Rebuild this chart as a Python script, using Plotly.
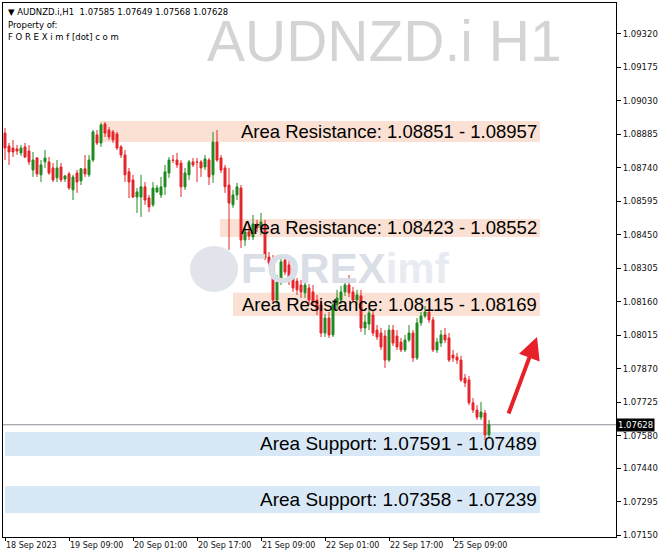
import plotly.graph_objects as go

# ---------------- data (AUDNZD.i, H1) ----------------
bar_index = list(range(122))
opens = [1.08891,1.08835,1.08826,1.08822,1.08805,1.08831,1.08813,1.08731,1.08783,1.08710,
         1.08766,1.08766,1.08740,1.08697,1.08744,1.08692,1.08714,1.08645,1.08718,1.08684,
         1.08736,1.08710,1.08774,1.08883,1.08848,1.08930,1.08904,1.08896,1.08887,1.08831,
         1.08796,1.08723,1.08688,1.08614,1.08614,1.08658,1.08610,1.08580,1.08636,1.08623,
         1.08658,1.08718,1.08774,1.08774,1.08761,1.08658,1.08710,1.08766,1.08766,1.08766,
         1.08744,1.08774,1.08710,1.08852,1.08783,1.08740,1.08666,1.08580,1.08623,1.08653,
         1.08428,1.08463,1.08441,1.08497,1.08480,1.08497,1.08354,1.08333,1.08168,1.08246,
         1.08341,1.08320,1.08307,1.08250,1.08233,1.08199,1.08220,1.08203,1.08168,1.08147,
         1.08025,1.08090,1.08017,1.08147,1.08168,1.08203,1.08233,1.08203,1.08168,1.08186,
         1.08047,1.08064,1.08103,1.08038,1.08025,1.08012,1.07908,1.08038,1.08012,1.07986,
         1.07952,1.07995,1.08025,1.07917,1.08069,1.08099,1.08116,1.08082,1.07952,1.07982,
         1.08017,1.08004,1.07930,1.07921,1.07908,1.07830,1.07822,1.07723,1.07692,1.07661,
         1.07679,1.07585]
highs = [1.08913,1.08848,1.08861,1.08839,1.08839,1.08848,1.08839,1.08809,1.08787,1.08774,
         1.08818,1.08787,1.08761,1.08774,1.08761,1.08710,1.08723,1.08710,1.08731,1.08740,
         1.08796,1.08796,1.08904,1.08904,1.08935,1.08939,1.08917,1.08904,1.08896,1.08839,
         1.08818,1.08740,1.08710,1.08653,1.08710,1.08679,1.08623,1.08679,1.08666,1.08701,
         1.08753,1.08787,1.08796,1.08805,1.08774,1.08740,1.08774,1.08783,1.08783,1.08774,
         1.08796,1.08783,1.08896,1.08904,1.08796,1.08753,1.08740,1.08645,1.08675,1.08666,
         1.08480,1.08489,1.08536,1.08515,1.08545,1.08515,1.08376,1.08363,1.08276,1.08350,
         1.08363,1.08350,1.08333,1.08263,1.08255,1.08246,1.08237,1.08233,1.08190,1.08168,
         1.08108,1.08116,1.08168,1.08212,1.08229,1.08255,1.08276,1.08225,1.08212,1.08212,
         1.08103,1.08134,1.08125,1.08060,1.08047,1.08038,1.08060,1.08060,1.08038,1.08004,
         1.08017,1.08060,1.08038,1.08090,1.08116,1.08142,1.08168,1.08095,1.08004,1.08038,
         1.08047,1.08025,1.07952,1.07939,1.07926,1.07848,1.07839,1.07744,1.07713,1.07727,
         1.07692,1.07649]
lows = [1.08774,1.08753,1.08787,1.08796,1.08792,1.08783,1.08753,1.08701,1.08701,1.08679,
        1.08740,1.08710,1.08679,1.08679,1.08679,1.08679,1.08645,1.08601,1.08632,1.08666,
        1.08701,1.08701,1.08766,1.08839,1.08831,1.08874,1.08861,1.08848,1.08818,1.08783,
        1.08679,1.08610,1.08610,1.08545,1.08528,1.08580,1.08549,1.08571,1.08632,1.08610,
        1.08623,1.08697,1.08761,1.08740,1.08614,1.08645,1.08688,1.08744,1.08679,1.08701,
        1.08731,1.08666,1.08675,1.08766,1.08718,1.08632,1.08385,1.08567,1.08601,1.08393,
        1.08402,1.08428,1.08428,1.08463,1.08450,1.08341,1.08315,1.08160,1.08147,1.08233,
        1.08276,1.08233,1.08203,1.08190,1.08177,1.08177,1.08147,1.08142,1.08103,1.08008,
        1.08008,1.08004,1.08008,1.08125,1.08151,1.08186,1.08181,1.08155,1.08147,1.08030,
        1.08017,1.08038,1.08012,1.07995,1.07952,1.07874,1.07900,1.07969,1.07952,1.07943,
        1.07943,1.07986,1.07900,1.07908,1.08056,1.08090,1.08069,1.07943,1.07939,1.07965,
        1.07982,1.07900,1.07900,1.07891,1.07813,1.07791,1.07713,1.07679,1.07649,1.07649,
        1.07562,1.07568]
closes = [1.08826,1.08809,1.08809,1.08813,1.08826,1.08787,1.08766,1.08774,1.08714,1.08753,
          1.08783,1.08718,1.08688,1.08740,1.08688,1.08705,1.08653,1.08701,1.08679,1.08736,
          1.08714,1.08774,1.08896,1.08848,1.08926,1.08891,1.08874,1.08861,1.08826,1.08796,
          1.08710,1.08679,1.08614,1.08636,1.08658,1.08601,1.08571,1.08653,1.08653,1.08658,
          1.08723,1.08774,1.08773,1.08753,1.08658,1.08718,1.08766,1.08753,1.08765,1.08740,
          1.08779,1.08701,1.08852,1.08774,1.08731,1.08658,1.08588,1.08623,1.08658,1.08428,
          1.08463,1.08445,1.08497,1.08480,1.08506,1.08350,1.08328,1.08168,1.08246,1.08333,
          1.08289,1.08255,1.08220,1.08212,1.08203,1.08233,1.08168,1.08160,1.08125,1.08025,
          1.08090,1.08017,1.08147,1.08177,1.08203,1.08233,1.08199,1.08168,1.08190,1.08047,
          1.08073,1.08112,1.08025,1.08008,1.07965,1.07908,1.08038,1.07982,1.07965,1.07952,
          1.07995,1.08025,1.07917,1.08069,1.08099,1.08116,1.08082,1.07952,1.07986,1.08017,
          1.07995,1.07908,1.07917,1.07908,1.07822,1.07809,1.07723,1.07692,1.07661,1.07683,
          1.07584,1.07628]

time_tick_index = [0, 16, 32, 48, 64, 80, 96, 112]
time_tick_text = ["18 Sep 2023", "19 Sep 09:00", "20 Sep 01:00", "20 Sep 17:00",
                  "21 Sep 09:00", "22 Sep 01:00", "22 Sep 17:00", "25 Sep 09:00"]
price_tick_vals = [1.09320, 1.09175, 1.09030, 1.08885, 1.08740, 1.08595, 1.08450, 1.08305,
                   1.08160, 1.08015, 1.07870, 1.07725, 1.07580, 1.07440, 1.07295, 1.07150]
price_tick_text = ["1.09320", "1.09175", "1.09030", "1.08885", "1.08740", "1.08595", "1.08450",
                   "1.08305", "1.08160", "1.08015", "1.07870", "1.07725", "1.07580", "1.07440",
                   "1.07295", "1.07150"]

# zones: labelled values and the drawn band edges
zone_kind = ["Resistance", "Resistance", "Resistance", "Support", "Support"]
zone_label_high = [1.08957, 1.08552, 1.08169, 1.07591, 1.07358]
zone_label_low = [1.08851, 1.08423, 1.08115, 1.07489, 1.07239]
zone_band_top = [1.08943, 1.08519, 1.08199, 1.07597, 1.07363]
zone_band_bottom = [1.08852, 1.08441, 1.08099, 1.07493, 1.07246]
zone_start_index = [23.75, 53.75, 57.0, 0.0, 0.0]
zone_end_index = 133.75

last_price = 1.07628

# ---------------- styling ----------------
GREEN = "#1f8a1f"
RED = "#e3262b"
RES_FILL = "#fbe1d3"
SUP_FILL = "#d8e8f7"
Y_FONT = dict(family="DejaVu Sans", size=8.5, color="#111111")
X_FONT = dict(family="DejaVu Sans", size=8, color="#111111")

W, H = 664, 560
L, R, T, B = 3, 48, 3, 23
def px(x):
    return (x - L) / (W - L - R)
def py(y):
    return (H - B - y) / (H - T - B)

fig = go.Figure()

# zones
for kind, top, bot, x0 in zip(zone_kind, zone_band_top, zone_band_bottom, zone_start_index):
    fill = RES_FILL if kind == "Resistance" else SUP_FILL
    fig.add_shape(type="rect", xref="x", yref="y", x0=x0, x1=zone_end_index, y0=bot, y1=top,
                  fillcolor=fill, line=dict(width=0), layer="below")

# watermark logo (decor)
fig.add_shape(type="circle", xref="paper", yref="paper",
              x0=px(190), x1=px(238), y0=py(292), y1=py(246),
              fillcolor="#e1e4ea", line=dict(width=0), layer="below")
fig.add_annotation(xref="paper", yref="paper", x=px(239), y=py(268), xanchor="left", yanchor="middle",
                   text="<b>FOREX</b><b><span style='color:#e8ebf1'>imf</span></b>", showarrow=False,
                   font=dict(family="Liberation Sans", size=42, color="#dadee6"))

fig.add_annotation(xref="paper", yref="paper", x=px(384), y=py(41), xanchor="center", yanchor="middle",
                   text="AUDNZD.i H1", showarrow=False,
                   font=dict(family="Liberation Sans", size=57, color="#d4d4d4"))

# current price line
fig.add_shape(type="line", xref="paper", yref="y", x0=0, x1=1, y0=last_price, y1=last_price,
              line=dict(color="#8a9098", width=1), layer="below")

fig.add_trace(go.Candlestick(
    x=bar_index, open=opens, high=highs, low=lows, close=closes,
    increasing=dict(line=dict(color=GREEN, width=1), fillcolor=GREEN),
    decreasing=dict(line=dict(color=RED, width=1), fillcolor=RED),
    whiskerwidth=0, showlegend=False, hoverinfo="skip"))

# zone labels
for kind, hi, lo, top, bot in zip(zone_kind, zone_label_high, zone_label_low,
                                  zone_band_top, zone_band_bottom):
    if kind == "Resistance":
        txt = f"Area Resistance: {lo:.5f} - {hi:.5f}"
        size = 18.5
    else:
        txt = f"Area Support: {hi:.5f} - {lo:.5f}"
        size = 19
    fig.add_annotation(x=zone_end_index - 0.2, y=(top + bot) / 2, xref="x", yref="y",
                       xanchor="right", yanchor="middle", text=txt, showarrow=False,
                       font=dict(family="Liberation Sans", size=size, color="#000000"))

# red arrow
fig.add_annotation(x=133, y=1.08008, xref="x", yref="y", ax=-29, ay=78, text="",
                   showarrow=True, arrowhead=2, arrowsize=1.1, arrowwidth=4, arrowcolor="#e8202a")

# last price label on axis
fig.add_annotation(xref="paper", yref="y", x=1.0, y=last_price, xanchor="left", yanchor="middle",
                   text="1.07628", showarrow=False, bgcolor="#000000", borderpad=1,
                   font=dict(family="DejaVu Sans", size=8.5, color="#ffffff"))

# header text
fig.add_annotation(xref="paper", yref="paper", x=px(6), y=py(12), xanchor="left", yanchor="middle",
                   text="▼ AUDNZD.i,H1  1.07585 1.07649 1.07568 1.07628", showarrow=False,
                   font=dict(family="DejaVu Sans", size=8.5, color="#000000"))
fig.add_annotation(xref="paper", yref="paper", x=px(6), y=py(25), xanchor="left", yanchor="middle",
                   text="Property of:", showarrow=False,
                   font=dict(family="DejaVu Sans", size=8.5, color="#000000"))
fig.add_annotation(xref="paper", yref="paper", x=px(6), y=py(37), xanchor="left", yanchor="middle",
                   text="F O R E X i m f [dot] c o m", showarrow=False,
                   font=dict(family="DejaVu Sans", size=8.5, color="#000000"))

fig.update_layout(
    width=W, height=H, margin=dict(l=L, r=R, t=T, b=B, autoexpand=False),
    paper_bgcolor="#ffffff", plot_bgcolor="#ffffff",
    showlegend=False,
    xaxis=dict(range=[-0.5, 152.75], rangeslider=dict(visible=False), showgrid=False, zeroline=False,
               tickmode="array", tickvals=time_tick_index, ticktext=time_tick_text,
               ticks="outside", ticklen=3, tickcolor="#000000", tickfont=X_FONT,
               ticklabelposition="outside right", tickangle=0, automargin=False,
               showline=True, linecolor="#000000", linewidth=1, mirror=True),
    yaxis=dict(range=[1.07142, 1.09454], side="right", showgrid=False, zeroline=False,
               tickmode="array", tickvals=price_tick_vals, ticktext=price_tick_text,
               ticks="outside", ticklen=4, tickcolor="#000000", tickfont=Y_FONT, automargin=False,
               showline=True, linecolor="#000000", linewidth=1, mirror=True),
)

fig.write_html("out.html", config={"displayModeBar": False},
               post_script="document.body.style.margin='0';")
